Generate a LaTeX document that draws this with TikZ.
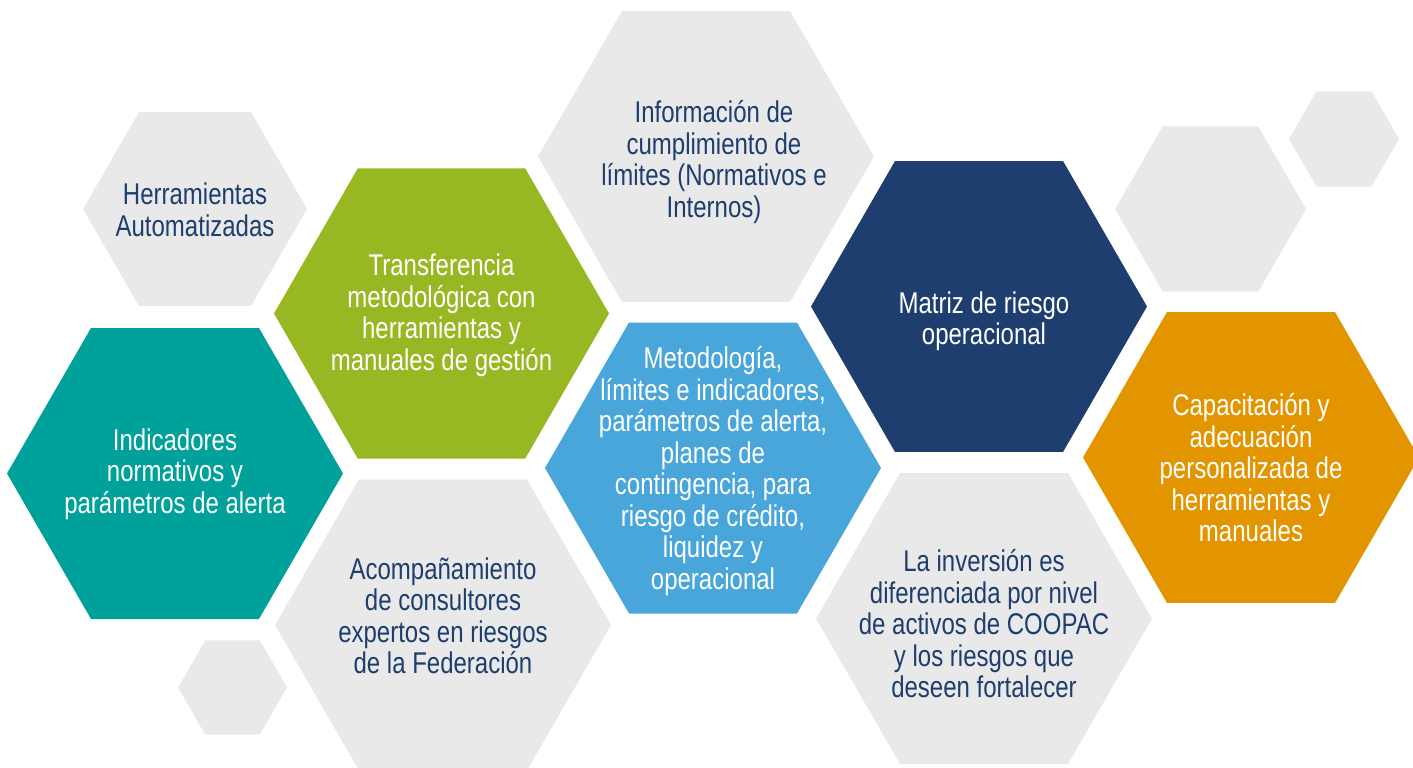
\documentclass[tikz,border=0pt]{standalone}
\usepackage{fontspec}
\setmainfont{Liberation Sans}[FakeStretch=0.8]
\definecolor{hexgrey}{HTML}{E9E9E9}
\definecolor{hexgreen}{HTML}{97B823}
\definecolor{hexteal}{HTML}{00A19A}
\definecolor{hexnavy}{HTML}{1D3E6F}
\definecolor{hexsky}{HTML}{49A6DA}
\definecolor{hexorange}{HTML}{E39500}
\definecolor{txtnavy}{HTML}{1D3E6F}
\newcommand{\hexa}[4]{% center x, center y, radius, colour
  \fill[#4] (#1,#2) +(0:#3) -- +(60:#3) -- +(120:#3) -- +(180:#3) -- +(240:#3) -- +(300:#3) -- cycle;}
\tikzset{
  hextext/.style={align=center, inner sep=0pt, font=\fontsize{30}{31.5}\selectfont},
  ontone/.style={hextext, text=white},
  ongrey/.style={hextext, text=txtnavy}
}
\begin{document}
\begin{tikzpicture}[x=1pt,y=-1pt]
\useasboundingbox (0,0) rectangle (1413,768);
\clip (0,0) rectangle (1413,768);
% hexagons
\hexa{195}{209}{112}{hexgrey}
\hexa{441.5}{313.5}{167.5}{hexgreen}
\hexa{706}{156.5}{168}{hexgrey}
\hexa{979}{306.5}{168}{hexnavy}
\hexa{1210.5}{209}{95.5}{hexgrey}
\hexa{1344}{139}{55}{hexgrey}
\hexa{1251}{457.5}{168}{hexorange}
\hexa{175}{473.5}{168}{hexteal}
\hexa{713}{468}{168}{hexsky}
\hexa{443}{625}{168}{hexgrey}
\hexa{232.5}{687.5}{54.5}{hexgrey}
\hexa{984}{618.5}{168}{hexgrey}
% texts
\node[ongrey] (herr) at (195,210) {Herramientas\\Automatizadas};
\node[ontone] (transf) at (441.5,315) {Transferencia\\metodológica con\\herramientas y\\manuales de gestión};
\node[ongrey] (info) at (714,162) {Información de\\cumplimiento de\\límites (Normativos e\\Internos)};
\node[ontone] (matriz) at (984,321) {Matriz de riesgo\\operacional};
\node[ontone] (capac) at (1251,468) {Capacitación y\\adecuación\\personalizada de\\herramientas y\\manuales};
\node[ontone] (indic) at (175,474) {Indicadores\\normativos y\\parámetros de alerta};
\node[ontone] (metod) at (713,471) {Metodología,\\límites e indicadores,\\parámetros de alerta,\\planes de\\contingencia, para\\riesgo de crédito,\\liquidez y\\operacional};
\node[ongrey] (acomp) at (443,616) {Acompañamiento\\de consultores\\expertos en riesgos\\de la Federación};
\node[ongrey] (inver) at (984,624) {La inversión es\\diferenciada por nivel\\de activos de COOPAC\\y los riesgos que\\deseen fortalecer};
\end{tikzpicture}
\end{document}
